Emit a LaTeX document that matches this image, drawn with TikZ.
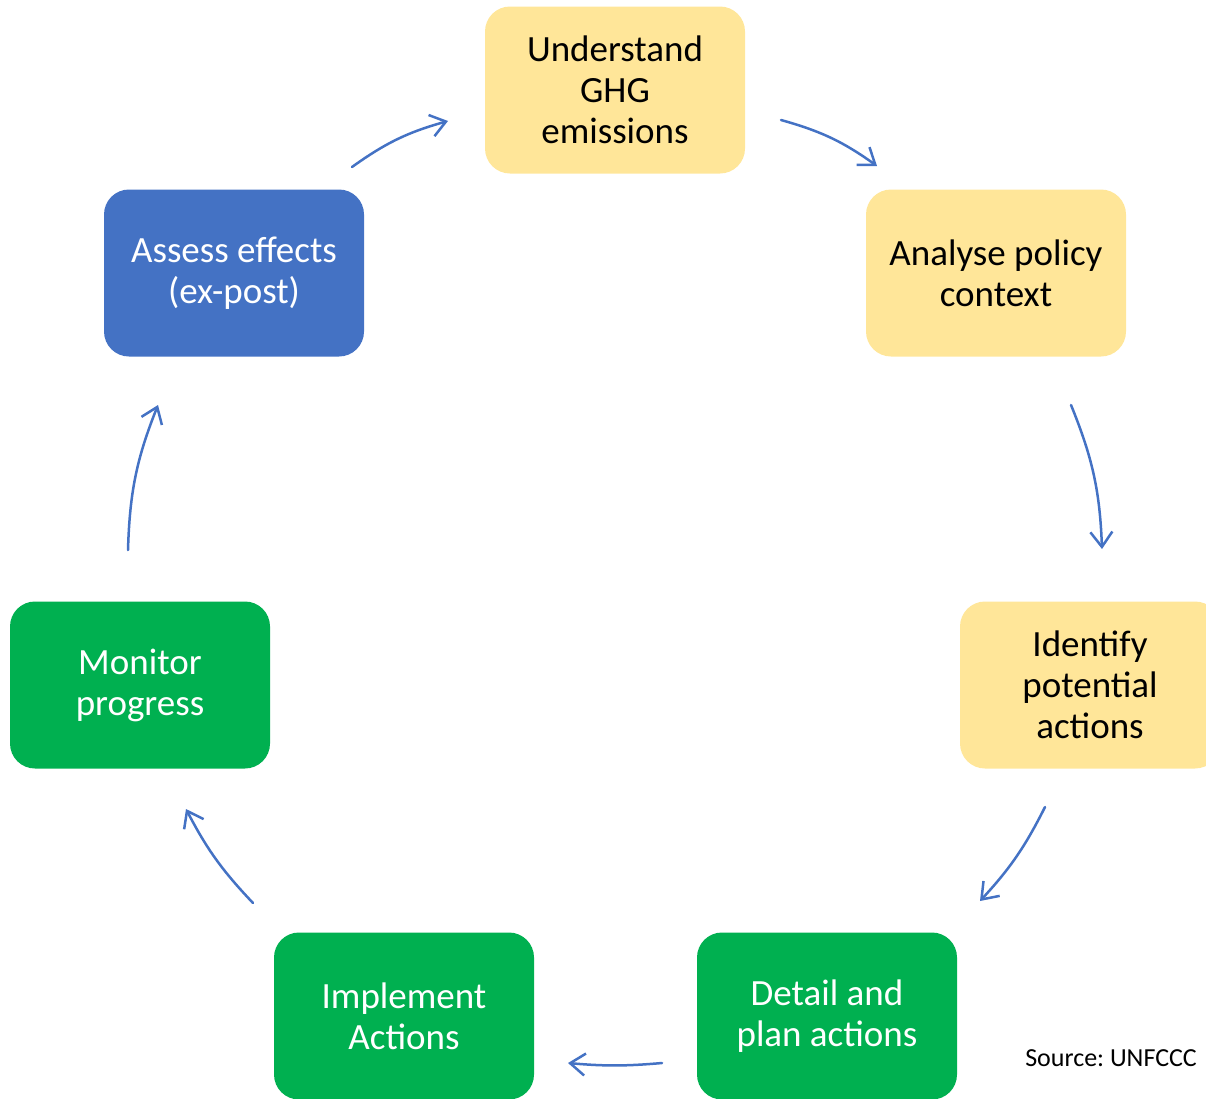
\documentclass[tikz,border=0pt]{standalone}
\usepackage{fontspec}
\setmainfont{Carlito}
\frenchspacing
\usetikzlibrary{arrows.meta}
\definecolor{planyellow}{HTML}{FFE699}
\definecolor{reviewblue}{HTML}{4472C4}
\definecolor{actgreen}{HTML}{00B050}
\definecolor{flowblue}{HTML}{4472C4}
\begin{document}
\begin{tikzpicture}[x=1pt,y=-1pt,
  stage/.style={rounded corners=25pt, minimum width=260pt, minimum height=167pt,
    inner sep=0pt, align=center, font=\fontsize{37}{41}\selectfont},
  yellowstage/.style={stage, fill=planyellow, text=black},
  bluestage/.style={stage, fill=reviewblue, text=white},
  greenstage/.style={stage, fill=actgreen, text=white},
  flow/.style={draw=flowblue, line width=2.5pt, line cap=round,
    -{Straight Barb[length=15pt,width=22pt,line width=2.5pt]}}]
\clip (0,0) rectangle (1206,1098);
\useasboundingbox (0,0) rectangle (1206,1098);

% stages of the cycle
\node[yellowstage] (understand) at (615,90)  {Understand\\GHG\\emissions};
\node[yellowstage] (analyse)    at (996,273) {Analyse policy\\context};
\node[yellowstage] (identify)   at (1090,685) {Identify\\potential\\actions};
\node[greenstage]  (detail)     at (827,1016) {Detail and\\plan actions};
\node[greenstage]  (implement)  at (404,1016) {Implement\\Actions};
\node[greenstage]  (monitor)    at (140,685) {Monitor\\progress};
\node[bluestage]   (assess)     at (234,273) {Assess effects\\(ex-post)};

% arrow end points between the stages
\coordinate (a1s) at (352,167);  \coordinate (a1e) at (448,121);
\coordinate (a2s) at (781,120);  \coordinate (a2e) at (877,166);
\coordinate (a3s) at (1071,405); \coordinate (a3e) at (1102,549);
\coordinate (a4s) at (1045,807); \coordinate (a4e) at (980,901);
\coordinate (a5s) at (662,1063); \coordinate (a5e) at (568,1063);
\coordinate (a6s) at (253,903);  \coordinate (a6e) at (186,809);
\coordinate (a7s) at (128,550);  \coordinate (a7e) at (158,405);

\draw[flow] (a1s) to[bend left=10] (a1e);
\draw[flow] (a2s) to[bend left=10] (a2e);
\draw[flow] (a3s) to[bend left=10] (a3e);
\draw[flow] (a4s) to[bend left=8] (a4e);
\draw[flow] (a5s) to[bend left=5] (a5e);
\draw[flow] (a6s) to[bend left=8] (a6e);
\draw[flow] (a7s) to[bend left=10] (a7e);

\node[anchor=base east, font=\fontsize{26}{30}\selectfont, inner sep=0pt]
  (source) at (1197,1066) {Source: UNFCCC};
\end{tikzpicture}
\end{document}
